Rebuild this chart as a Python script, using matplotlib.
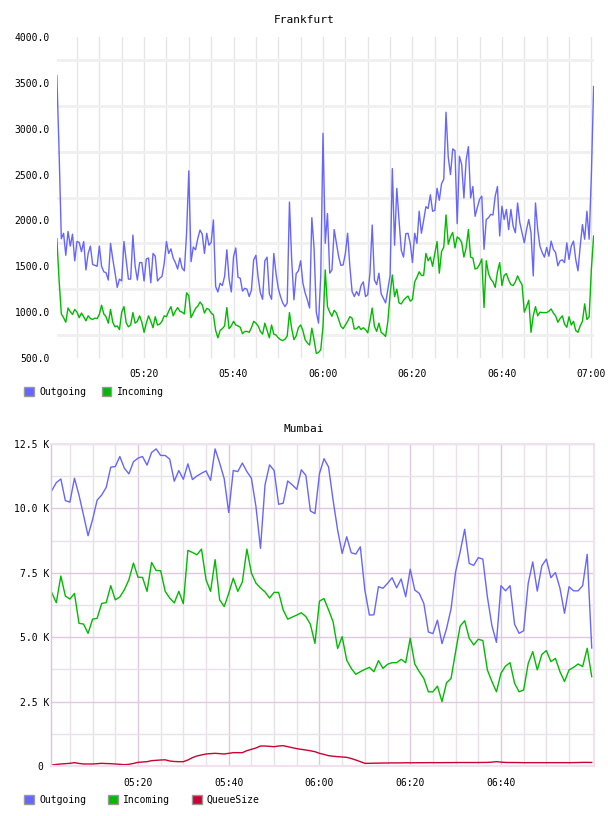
import pandas as pd
import matplotlib
matplotlib.use('Agg')
import matplotlib.pyplot as plt
import matplotlib.dates as mdates
from matplotlib.patches import Patch
from matplotlib.ticker import FixedLocator, FuncFormatter

# Frankfurt, one sample every 30 s from 05:00:30
fra_start = '2024-01-01 05:00:30'
fra_out = [
    3580, 2750, 1800, 1860, 1620, 1880, 1720, 1850, 1560, 1770,
    1760, 1660, 1770, 1460, 1640, 1720, 1520, 1510, 1500, 1720,
    1500, 1440, 1430, 1350, 1750, 1580, 1430, 1270, 1360, 1340,
    1770, 1560, 1360, 1360, 1840, 1500, 1350, 1540, 1540, 1340,
    1580, 1590, 1320, 1640, 1610, 1340, 1370, 1390, 1530, 1770,
    1640, 1690, 1590, 1540, 1470, 1590, 1480, 1450, 1860, 2540,
    1550, 1710, 1680, 1800, 1895, 1850, 1640, 1860, 1730, 1760,
    2005, 1280, 1220, 1315, 1290, 1390, 1680, 1360, 1220, 1605,
    1700, 1380, 1370, 1230, 1260, 1250, 1170, 1240, 1570, 1620,
    1380, 1210, 1140, 1560, 1600, 1200, 1140, 1640, 1420, 1260,
    1170, 1100, 1060, 1100, 2200, 1570, 1135, 1420, 1450, 1560,
    1320, 1210, 1135, 1045, 2030, 1700, 1000, 880, 1400, 2950,
    1750, 2075, 1425, 1460, 1900, 1750, 1605, 1510, 1515, 1640,
    1860, 1500, 1225, 1170, 1225, 1180, 1290, 1330, 1170, 1190,
    1425, 1950, 1350, 1300, 1425, 1200, 1150, 1100, 1250, 1400,
    2565, 1730, 2350, 2000, 1675, 1600, 1855, 1860, 1750, 1540,
    1860, 1750, 2100, 1860, 2000, 2150, 2130, 2280, 2100, 2110,
    2350, 2220, 2400, 2450, 3180, 2690, 2500, 2780, 2760, 1965,
    2700, 2610, 2245, 2660, 2805, 2245, 2370, 2045, 2140, 2230,
    2265, 1685, 2010, 2030, 2065, 2060, 2265, 2370, 1830, 2155,
    2010, 2120, 1900, 2120, 1940, 1865, 2190, 1975, 1865, 1755,
    1900, 2010, 1865, 1395, 2190, 1900, 1720, 1650, 1600, 1705,
    1610, 1775, 1685, 1650, 1505, 1560, 1570, 1540, 1755, 1575,
    1720, 1775, 1575, 1450, 1720, 1955, 1795, 2100, 1795, 2500,
    3460,
]
fra_in = [
    1800, 1350, 980, 940, 890, 1045, 1005, 975, 1030, 1000,
    940, 990, 950, 905, 960, 930, 920, 935, 930, 975,
    1075, 980, 950, 880, 1030, 890, 840, 850, 810, 1000,
    1060, 885, 840, 860, 995, 880, 900, 960, 890, 780,
    880, 960, 900, 830, 950, 860, 870, 900, 960, 950,
    1010, 1060, 960, 1010, 1050, 1010, 1000, 980, 1210, 1180,
    940, 990, 1040, 1065, 1110, 1080, 990, 1040, 1030, 990,
    970, 800, 720, 800, 820, 850, 1050, 820, 850, 900,
    860, 850, 835, 765, 790, 790, 780, 830, 900, 880,
    850, 790, 760, 880, 800, 720, 860, 760, 750, 720,
    700, 690, 705, 740, 995, 820, 700, 740, 830, 860,
    800, 700, 665, 640, 825, 700, 550, 560, 590, 845,
    1460, 1060, 1000, 955, 1020, 990, 920, 845, 820, 860,
    900, 950, 935, 815, 820, 845, 810, 830, 810, 775,
    900, 1045, 845, 790, 880, 780, 760, 735, 900, 1200,
    1405, 1170, 1250, 1100, 1090, 1130, 1155, 1175, 1120, 1140,
    1330, 1380, 1440, 1400, 1400, 1640, 1560, 1600, 1500, 1640,
    1770, 1425, 1660, 1710, 2060, 1740, 1820, 1870, 1700, 1820,
    1800, 1760, 1600, 1700, 1900, 1600, 1590, 1470, 1480, 1520,
    1580, 1050, 1560, 1420, 1360, 1330, 1270, 1440, 1540, 1290,
    1400, 1420, 1350, 1300, 1290, 1330, 1395, 1340, 1300, 1000,
    1060, 1130, 780, 960, 1060, 960, 1000, 995, 995, 995,
    1010, 1035, 990, 960, 890, 930, 960, 870, 835, 950,
    860, 900, 800, 780, 850, 900, 1090, 920, 950, 1470,
    1830,
]

# Mumbai, one sample per minute from 05:01
bom_start = '2024-01-01 05:01:00'
bom_out = [
    10688, 11000, 11142, 10300, 10245, 11170, 10520, 9740, 8940, 9570,
    10320, 10520, 10816, 11600, 11625, 12015, 11560, 11340, 11810, 11950,
    12015, 11680, 12170, 12310, 12055, 12055, 11910, 11055, 11470, 11130,
    11730, 11120, 11260, 11365, 11455, 11090, 12310, 11760, 11160, 9840,
    11470, 11430, 11760, 11430, 11170, 10070, 8450, 10915, 11690, 11470,
    10160, 10200, 11065, 10915, 10740, 11500, 11280, 9900, 9800, 11350,
    11930, 11610, 10320, 9160, 8250, 8900, 8280, 8225, 8510, 6830,
    5860, 5870, 6960, 6900, 7090, 7310, 6920, 7260, 6570, 7640,
    6830, 6700, 6310, 5200, 5140, 5660, 4750, 5330, 6100, 7540,
    8310, 9190, 7860, 7790, 8090, 8030, 6570, 5450, 4800, 7000,
    6800, 7000, 5500, 5150, 5250, 7090, 7920, 6790, 7770, 8030,
    7310, 7510, 6900, 5930, 6960, 6800, 6800, 7000, 8220, 4580,
]
bom_in = [
    6727, 6340, 7375, 6600, 6480, 6700, 5540, 5510, 5150, 5700,
    5730, 6310, 6340, 7000, 6450, 6560, 6840, 7230, 7880, 7330,
    7320, 6780, 7900, 7590, 7580, 6780, 6520, 6330, 6780, 6300,
    8370, 8290, 8200, 8420, 7230, 6780, 8010, 6450, 6190, 6700,
    7290, 6780, 7140, 8420, 7490, 7100, 6910, 6760, 6520, 6740,
    6740, 6060, 5700, 5780, 5860, 5950, 5800, 5500, 4760, 6400,
    6500, 6060, 5600, 4560, 5020, 4110, 3790, 3560, 3660, 3750,
    3830, 3660, 4090, 3790, 3950, 4010, 4010, 4140, 4010, 4960,
    3960, 3660, 3400, 2880, 2880, 3100, 2500, 3230, 3400, 4440,
    5430, 5640, 4960, 4700, 4920, 4870, 3730, 3280, 2880, 3600,
    3880, 4010, 3210, 2880, 2950, 3980, 4440, 3730, 4330, 4480,
    4050, 4180, 3660, 3280, 3730, 3830, 3960, 3860, 4570, 3470,
]
bom_queue = [
    40, 60, 78, 90, 104, 130, 100, 78, 78, 78,
    90, 104, 95, 90, 78, 65, 52, 65, 100, 142,
    155, 168, 207, 220, 233, 240, 194, 175, 168, 168,
    233, 324, 388, 430, 466, 480, 492, 480, 466, 492,
    518, 518, 518, 595, 647, 699, 776, 776, 763, 750,
    776, 789, 750, 712, 673, 647, 620, 590, 556, 492,
    450, 401, 380, 362, 350, 336, 290, 233, 170, 104,
    104, 110, 112, 115, 118, 120, 120, 122, 125, 125,
    125, 128, 128, 130, 130, 130, 130, 132, 132, 135,
    135, 135, 135, 135, 135, 138, 140, 150, 168, 150,
    138, 135, 135, 132, 130, 130, 130, 130, 130, 130,
    130, 130, 130, 130, 130, 132, 135, 140, 140, 138,
]
bom_labels = ['05:20', '05:40', '06:00', '06:20', '06:40']

BLUE = '#6666ff'
GREEN = '#00bb00'
RED = '#cc0033'
MONO = 'DejaVu Sans Mono'

fra_t = pd.date_range(fra_start, periods=len(fra_out), freq='30s')
bom_t = pd.date_range(bom_start, periods=len(bom_out), freq='min')

fig = plt.figure(figsize=(6.08, 8.16), dpi=100)
W, H = 608, 816


def box(l, t, r, b):
    return [l / W, 1 - b / H, (r - l) / W, (b - t) / H]


def legend(items, y, spacing):
    handles = [Patch(facecolor=c, edgecolor='#999999', linewidth=1.0, label=n) for n, c in items]
    fig.legend(handles=handles, loc='center left', bbox_to_anchor=(24 / W, 1 - y / H),
               ncol=len(items), frameon=False, borderpad=0, borderaxespad=0,
               handlelength=1.0, handleheight=1.0, handletextpad=0.55,
               columnspacing=spacing, prop={'family': MONO, 'size': 7})


# ---- Frankfurt
ax1 = fig.add_axes(box(57, 37, 594, 358))
ax1.plot(fra_t, fra_out, color=BLUE, lw=1.0)
ax1.plot(fra_t, fra_in, color=GREEN, lw=1.0)
ax1.set_xlim(pd.Timestamp('2024-01-01 05:00:32'), pd.Timestamp('2024-01-01 07:00:35'))
ax1.set_ylim(500, 4000)
ax1.xaxis.set_major_locator(mdates.MinuteLocator(byminute=[0, 20, 40]))
ax1.xaxis.set_minor_locator(mdates.MinuteLocator(byminute=range(0, 60, 5)))
ax1.xaxis.set_major_formatter(mdates.DateFormatter('%H:%M'))
ax1.yaxis.set_major_locator(FixedLocator(range(500, 4001, 500)))
ax1.yaxis.set_minor_locator(FixedLocator(range(750, 4000, 500)))
ax1.yaxis.set_major_formatter(FuncFormatter(lambda v, p: f'{v:.1f}'))
ax1.grid(True, axis='x', which='both', color='#e6e6e6', lw=1.0)
ax1.grid(True, axis='y', which='minor', color='#f0f0f0', lw=2.0)
ax1.set_axisbelow(True)
for s in ax1.spines.values():
    s.set_visible(False)
ax1.tick_params(which='both', length=0)
ax1.tick_params(axis='y', pad=5)
ax1.tick_params(axis='x', pad=8)
for lab in ax1.get_xticklabels() + ax1.get_yticklabels():
    lab.set_family(MONO)
    lab.set_fontsize(7)
fig.text(0.5, 1 - 20 / H, 'Frankfurt', ha='center', va='center', family=MONO, fontsize=8)
legend([('Outgoing', BLUE), ('Incoming', GREEN)], 392, 1.6)

# ---- Mumbai
ax2 = fig.add_axes(box(51, 444, 594, 766))
ax2.plot(bom_t, bom_out, color=BLUE, lw=1.0)
ax2.plot(bom_t, bom_in, color=GREEN, lw=1.0)
ax2.plot(bom_t, bom_queue, color=RED, lw=1.0)
ax2.set_xlim(pd.Timestamp('2024-01-01 05:00:50'), pd.Timestamp('2024-01-01 07:00:30'))
ax2.set_ylim(0, 12500)
major_t = [mdates.date2num(pd.Timestamp('2024-01-01 ' + s)) for s in bom_labels]
ax2.xaxis.set_major_locator(FixedLocator(major_t))
ax2.xaxis.set_minor_locator(mdates.MinuteLocator(byminute=range(5, 60, 5)))
ax2.xaxis.set_major_formatter(mdates.DateFormatter('%H:%M'))
ax2.yaxis.set_major_locator(FixedLocator(range(0, 12501, 2500)))
ax2.yaxis.set_minor_locator(FixedLocator(range(1250, 12500, 2500)))
ax2.yaxis.set_major_formatter(FuncFormatter(lambda v, p: '0 ' if v == 0 else f'{v / 1000:.1f} K'))
ax2.grid(True, which='major', color='#e0c8e0', lw=1.0)
ax2.grid(True, which='minor', color='#e9e2e9', lw=1.0)
ax2.set_axisbelow(True)
for side in ['top', 'right', 'bottom']:
    ax2.spines[side].set_color('#f0e0f0')
    ax2.spines[side].set_linewidth(1.5)
ax2.spines['left'].set_color('#dcc4dc')
ax2.spines['left'].set_linewidth(1.0)
ax2.tick_params(which='both', length=0)
ax2.tick_params(axis='y', pad=1)
ax2.tick_params(axis='x', pad=9)
for lab in ax2.get_xticklabels() + ax2.get_yticklabels():
    lab.set_family(MONO)
    lab.set_fontsize(7)
fig.text(0.5, 1 - 429 / H, 'Mumbai', ha='center', va='center', family=MONO, fontsize=8)
legend([('Outgoing', BLUE), ('Incoming', GREEN), ('QueueSize', RED)], 800, 2.25)

fig.savefig('out.png', dpi=100, facecolor='white')
